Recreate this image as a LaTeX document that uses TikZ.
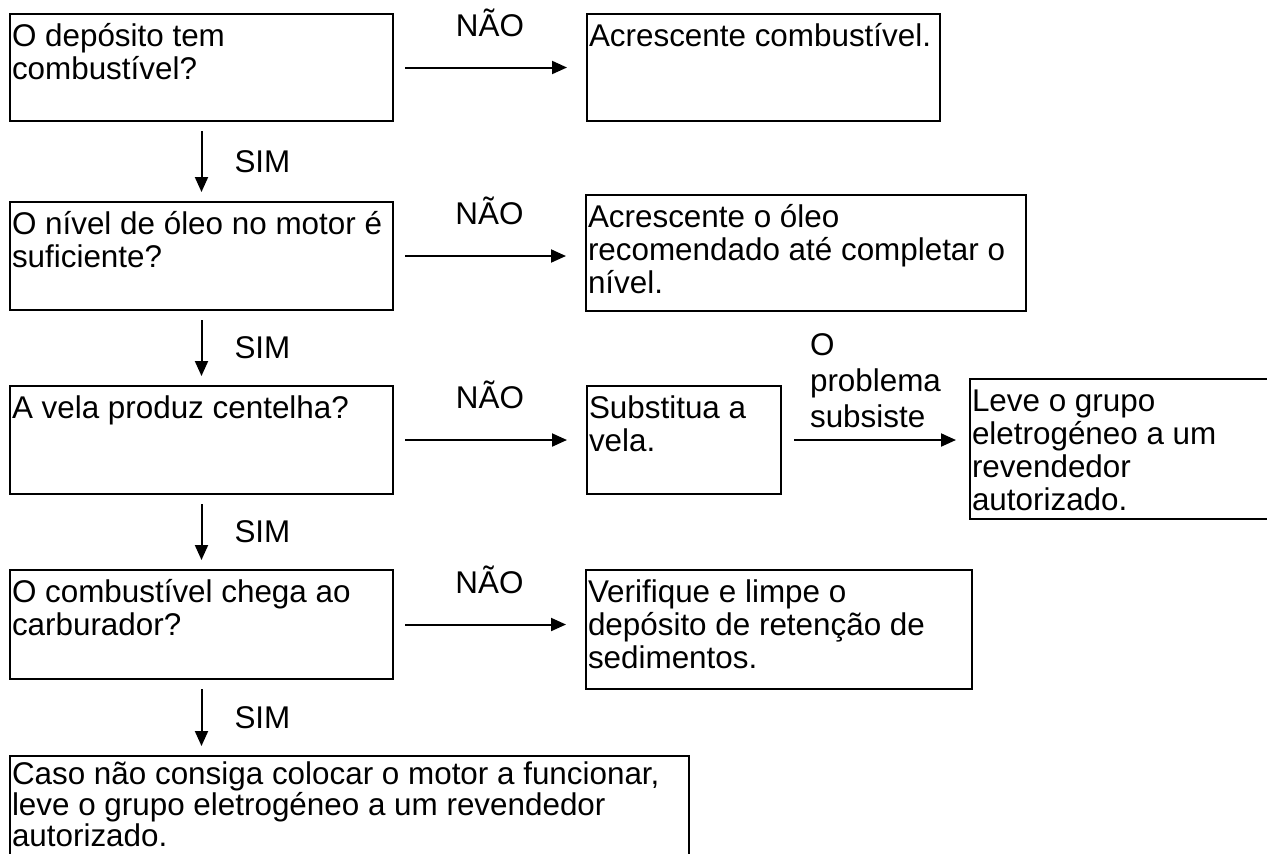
\documentclass[tikz,border=0pt]{standalone}
\usepackage{fontspec}
\setmainfont{Liberation Sans}
\usetikzlibrary{arrows.meta,positioning}

\begin{document}
\begin{tikzpicture}[
 x=0.5pt,y=-0.5pt,
 node distance=37pt,
 box/.style={draw,line width=1pt,align=flush left,inner xsep=1pt,inner ysep=0pt,text width=189.5pt,text height=16pt,text depth=38pt,font=\fontsize{15.7}{16.5}\selectfont},
 lbl/.style={inner sep=0pt,font=\fontsize{15.7}{18}\selectfont},
 arr/.style={-{Triangle[length=7.5pt,width=6.5pt]},line width=1pt}]
\useasboundingbox (0,0) rectangle (1267,853);
\fill[white] (0,0) rectangle (1267,853);
% left column: the questions
\node[box,anchor=north west,text depth=37.5pt] (tank) at (9,13) {O depósito tem\\combustível?};
\node[box,below=39.5pt of tank] (oil) {O nível de óleo no motor é\\suficiente?};
\node[box,below=of oil] (spark) {A vela produz centelha?};
\node[box,below=of spark,text depth=38.5pt] (carb) {O combustível chega ao\\carburador?};
\node[box,below=37.5pt of carb.south west,anchor=north west,text width=337.5pt,text height=14pt,text depth=62pt,font=\fontsize{15.7}{15.5}\selectfont] (final) {Caso não consiga colocar o motor a funcionar,\\leve o grupo eletrogéneo a um revendedor\\autorizado.};
% right column: what to do
\node[box,right=96pt of tank.north east,anchor=north west,text width=174.5pt,text depth=37.5pt] (refuel) {Acrescente combustível.};
\node[box,right=95.5pt of oil.north east,anchor=north west,yshift=3.5pt,text width=218pt,text depth=42pt] (topup) {Acrescente o óleo\\recomendado até completar o\\nível.};
\node[box,right=96pt of spark.north east,anchor=north west,text width=95pt] (plug) {Substitua a\\vela.};
\node[box,right=93.5pt of plug.north east,anchor=north west,yshift=3.5pt,text width=148pt,text depth=54pt] (service) {Leve o grupo\\eletrogéneo a um\\revendedor\\autorizado.};
\node[box,right=95.5pt of carb.north east,anchor=north west,text width=191pt,text depth=43.5pt] (filter) {Verifique e limpe o\\depósito de retenção de\\sedimentos.};
\foreach \a/\b in {tank/oil,oil/spark,spark/carb,carb/final}
  \draw[arr,shorten <=4.5pt,shorten >=4.5pt] (\a.south) -- (\a.south |- \b.north) node[lbl,midway,right=16pt] {SIM};
\foreach \a/\b in {tank/refuel,oil/topup,spark/plug,carb/filter}
  \draw[arr,shorten <=5.5pt,shorten >=9.5pt] (\a) -- (\a -| \b.west) node[lbl,midway,above=15pt] {NÃO};
\draw[arr,shorten <=6pt,shorten >=6.5pt] (plug) -- (plug -| service.west) node[lbl,midway,above=5.5pt,align=left] {O\\problema\\subsiste};
\end{tikzpicture}
\end{document}
